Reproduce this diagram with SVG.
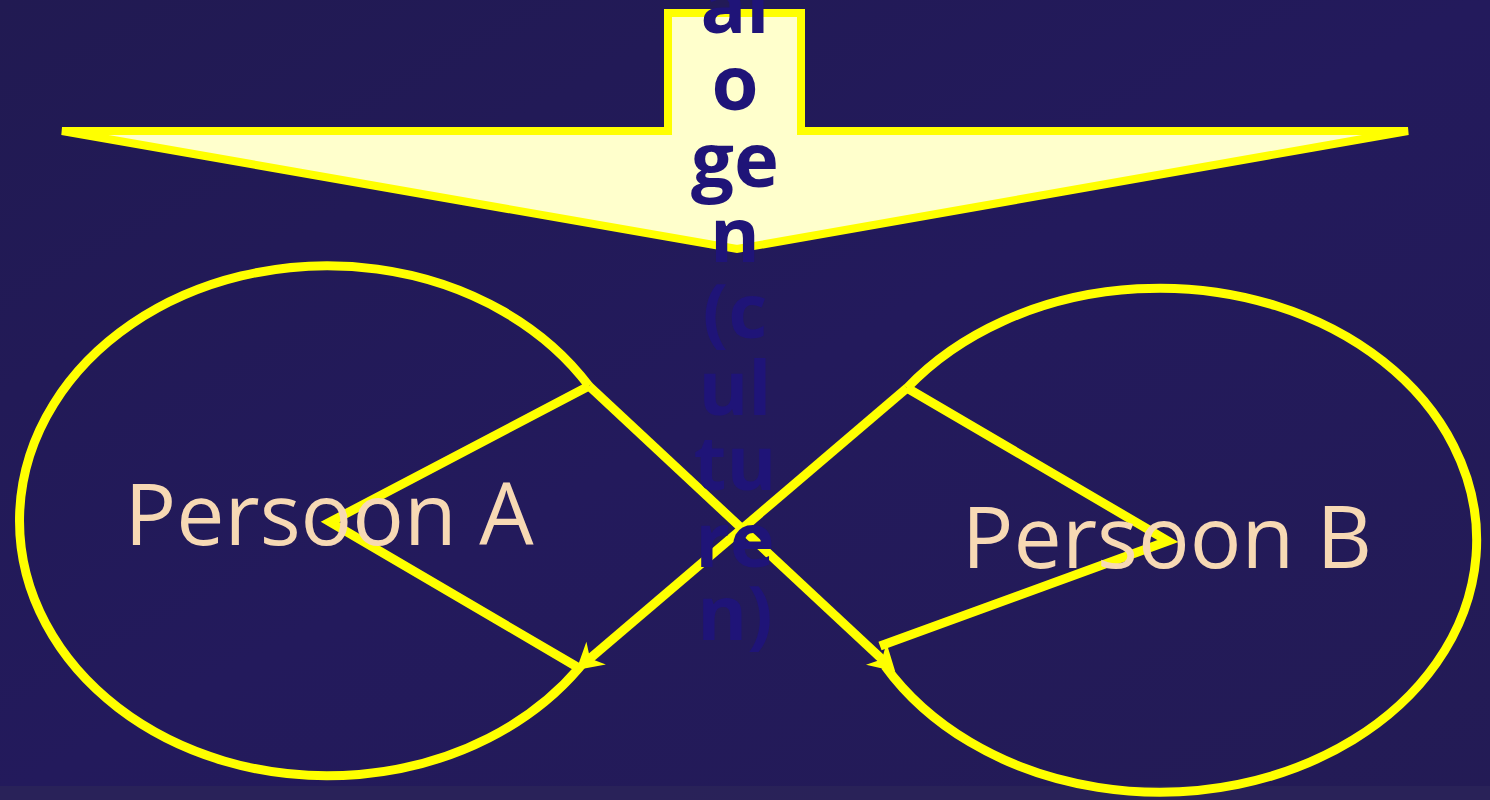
<svg xmlns="http://www.w3.org/2000/svg" width="1490" height="800" viewBox="0 0 1490 800">
  <defs>
    <linearGradient id="bg" x1="0" y1="0" x2="1" y2="1">
      <stop offset="0" stop-color="#211a52"/>
      <stop offset="0.5" stop-color="#231a5c"/>
      <stop offset="1" stop-color="#231b55"/>
    </linearGradient>
    <marker id="stealth" viewBox="-28 -16 30 32" refX="-14" refY="0" markerWidth="30" markerHeight="32" markerUnits="userSpaceOnUse" orient="auto">
      <path d="M0,0 L-26,-15 L-18,0 L-26,15 Z" fill="#ffff00"/>
    </marker>
    <style>
      .loop { fill: none; stroke: #ffff00; stroke-width: 9; stroke-linejoin: miter; }
      .conn { fill: none; stroke: #ffff00; stroke-width: 9; }
      .person { font-family: "Open Sans", "Noto Sans", sans-serif; font-size: 86px; fill: #f7d9b4; text-anchor: middle; }
      .label { font-family: "Open Sans", "Noto Sans", sans-serif; font-weight: bold; font-size: 76px; fill: #1f1478; text-anchor: middle; }
    </style>
  </defs>

  <rect id="background" x="0" y="0" width="1490" height="800" fill="url(#bg)"/>
  <rect x="0" y="786" width="1490" height="14" fill="#2b2459" opacity="0.8"/>

  <g id="personA">
    <path class="loop" d="M589,386 L330,522 L579,668 A308,255 0 1 1 589,386"/>
    <text class="person" x="329" y="545">Persoon A</text>
  </g>

  <g id="personB">
    <path class="loop" d="M907,388 L1168,541 L880,646"/>
    <path class="loop" d="M907,388 A317,252 0 1 1 885,666"/>
    <text class="person" x="1167" y="568">Persoon B</text>
  </g>

  <g id="connectors">
    <line class="conn" x1="589" y1="386" x2="885" y2="662" marker-end="url(#stealth)"/>
    <line class="conn" x1="907" y1="388" x2="587" y2="661" marker-end="url(#stealth)"/>
  </g>

  <g id="culture-arrow">
    <polygon points="668,13 801,13 801,131 1408,131 737,249 62,131 668,131" fill="#ffffcc" stroke="#ffff00" stroke-width="8" stroke-linejoin="miter"/>
    <text class="label" x="735" y="33">al</text>
    <text class="label" x="735" y="110">o</text>
    <text class="label" x="735" y="187">ge</text>
    <text class="label" x="735" y="262">n</text>
    <text class="label" x="735" y="338">(c</text>
    <text class="label" x="735" y="415">ul</text>
    <text class="label" x="735" y="490">tu</text>
    <text class="label" x="735" y="567">re</text>
    <text class="label" x="735" y="640">n)</text>
  </g>
</svg>
